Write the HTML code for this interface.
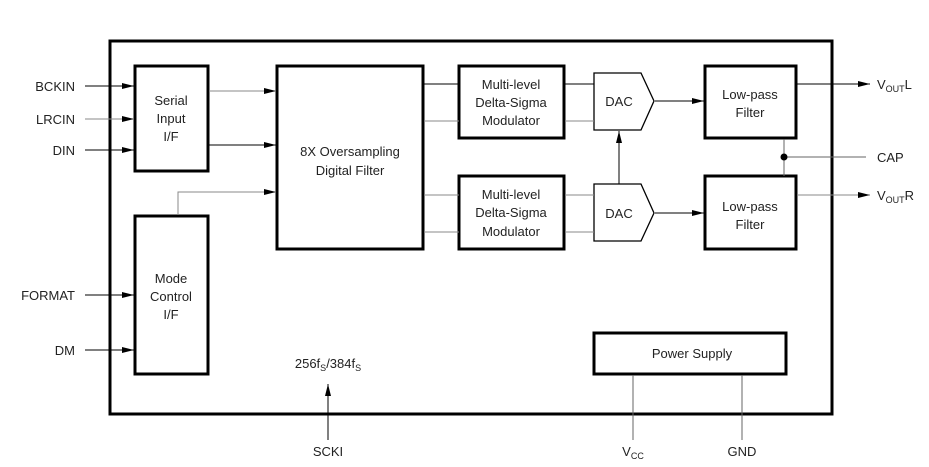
<!DOCTYPE html>
<html><head><style>body{margin:0;background:#fff}svg{display:block}text{font-family:"Liberation Sans",Arial,sans-serif;font-size:13px;fill:#222}</style></head><body>
<svg width="929" height="467" viewBox="0 0 929 467">
<defs><marker id="a" markerWidth="12" markerHeight="8" refX="12" refY="4" orient="auto" markerUnits="userSpaceOnUse"><path d="M0,1 L12,4 L0,7z" fill="#000"/></marker></defs>
<g fill="none" stroke="#000" stroke-width="3">
<rect x="110" y="41" width="722" height="373"/>
<rect x="135" y="66" width="73" height="105"/>
<rect x="277" y="66" width="146" height="183"/>
<rect x="459" y="66" width="105" height="72"/>
<rect x="459" y="176" width="105" height="73"/>
<rect x="705" y="66" width="91" height="72"/>
<rect x="705" y="176" width="91" height="73"/>
<rect x="135" y="216" width="73" height="158"/>
<rect x="594" y="333" width="192" height="41"/>
</g>
<g fill="none" stroke="#000" stroke-width="1.3">
<path d="M594,73 H641 L654,101 L641,130 H594Z"/>
<path d="M594,184 H641 L654,213 L641,241 H594Z"/>
</g>
<g stroke="#000" stroke-width="1" fill="none">
<line x1="85" y1="86" x2="134" y2="86" marker-end="url(#a)"/>
<line x1="85" y1="119" x2="134" y2="119" stroke="#888" marker-end="url(#a)"/>
<line x1="85" y1="150" x2="134" y2="150" marker-end="url(#a)"/>
<line x1="209" y1="91" x2="276" y2="91" stroke="#888" marker-end="url(#a)"/>
<line x1="209" y1="145" x2="276" y2="145" marker-end="url(#a)"/>
<path d="M178,215 V192 H276" stroke="#888" marker-end="url(#a)"/>
<line x1="424" y1="84" x2="459" y2="84"/>
<line x1="424" y1="121" x2="459" y2="121" stroke="#888"/>
<line x1="424" y1="195" x2="459" y2="195" stroke="#888"/>
<line x1="424" y1="232" x2="459" y2="232" stroke="#888"/>
<line x1="565" y1="84" x2="594" y2="84"/>
<line x1="565" y1="121" x2="594" y2="121" stroke="#888"/>
<line x1="565" y1="195" x2="594" y2="195" stroke="#888"/>
<line x1="565" y1="232" x2="594" y2="232" stroke="#888"/>
<line x1="655" y1="101" x2="704" y2="101" marker-end="url(#a)"/>
<line x1="655" y1="213" x2="704" y2="213" marker-end="url(#a)"/>
<line x1="619" y1="184" x2="619" y2="131" marker-end="url(#a)"/>
<line x1="797" y1="84" x2="870" y2="84" marker-end="url(#a)"/>
<line x1="797" y1="195" x2="870" y2="195" stroke="#888" marker-end="url(#a)"/>
<line x1="784" y1="139" x2="784" y2="176" stroke="#666"/>
<line x1="784" y1="157" x2="866" y2="157" stroke="#666"/>
<line x1="85" y1="295" x2="134" y2="295" marker-end="url(#a)"/>
<line x1="85" y1="350" x2="134" y2="350" marker-end="url(#a)"/>
<line x1="328" y1="440" x2="328" y2="384" marker-end="url(#a)"/>
<line x1="633" y1="375" x2="633" y2="440" stroke="#666"/>
<line x1="742" y1="375" x2="742" y2="440" stroke="#666"/>
</g>
<circle cx="784" cy="157" r="3.5" fill="#000"/>
<g text-anchor="end"><text x="75" y="91">BCKIN</text><text x="75" y="124">LRCIN</text><text x="75" y="155">DIN</text><text x="75" y="300">FORMAT</text><text x="75" y="355">DM</text></g>
<g text-anchor="middle">
<text x="171" y="105">Serial</text><text x="171" y="123">Input</text><text x="171" y="141">I/F</text>
<text x="350" y="156">8X Oversampling</text><text x="350" y="175">Digital Filter</text>
<text x="511" y="89">Multi-level</text><text x="511" y="107">Delta-Sigma</text><text x="511" y="125">Modulator</text>
<text x="511" y="199">Multi-level</text><text x="511" y="217">Delta-Sigma</text><text x="511" y="236">Modulator</text>
<text x="619" y="106">DAC</text><text x="619" y="218">DAC</text>
<text x="750" y="99">Low-pass</text><text x="750" y="117">Filter</text>
<text x="750" y="211">Low-pass</text><text x="750" y="229">Filter</text>
<text x="171" y="283">Mode</text><text x="171" y="301">Control</text><text x="171" y="319">I/F</text>
<text x="692" y="358">Power Supply</text>
<text x="328" y="456">SCKI</text>
<text x="742" y="456">GND</text>
<text x="328" y="368">256f<tspan font-size="9" dy="3">S</tspan><tspan dy="-3">/384f</tspan><tspan font-size="9" dy="3">S</tspan></text>
<text x="633" y="456">V<tspan font-size="9" dy="3">CC</tspan></text>
</g>
<text x="877" y="89">V<tspan font-size="9" dy="3">OUT</tspan><tspan dy="-3">L</tspan></text>
<text x="877" y="162">CAP</text>
<text x="877" y="200">V<tspan font-size="9" dy="3">OUT</tspan><tspan dy="-3">R</tspan></text>
</svg>
</body></html>
